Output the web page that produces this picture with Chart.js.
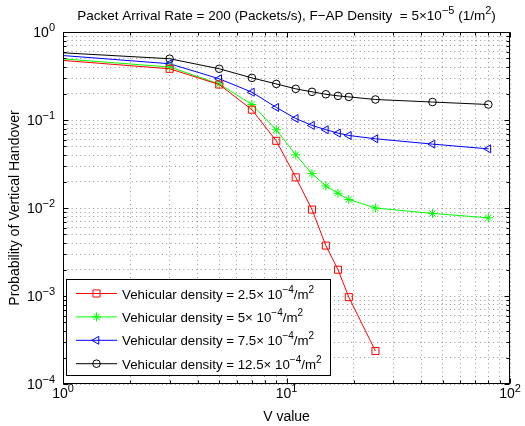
<!DOCTYPE html>
<html>
<head>
<meta charset="utf-8">
<script src="https://cdn.jsdelivr.net/npm/chart.js@4/dist/chart.umd.min.js"></script>
<style>
  body { margin: 0; background: #fff; }
  #wrap { width: 525px; height: 426px; }
</style>
</head>
<body>
<div id="wrap"><canvas id="chart" width="525" height="426"></canvas></div>
<script>
// V values on the x axis
const vValues = [1, 3, 5, 7, 9, 11, 13, 15, 17, 19, 25, 45, 80];

// probability of vertical handover, one array per vehicular density
const density25 = [0.475, 0.382, 0.253, 0.131, 0.058, 0.0223, 0.0096, 0.00374, 0.00199, 0.00097, 0.000237];
const density5 = [0.495, 0.40, 0.257, 0.150, 0.0775, 0.0402, 0.0246, 0.0178, 0.0147, 0.0125, 0.0100, 0.00867, 0.00773];
const density75 = [0.54, 0.436, 0.294, 0.207, 0.139, 0.104, 0.0868, 0.0775, 0.071, 0.0667, 0.0612, 0.0532, 0.047];
const density125 = [0.58, 0.497, 0.382, 0.301, 0.257, 0.226, 0.209, 0.196, 0.188, 0.183, 0.171, 0.160, 0.150];

const densityNames = ['2.5', '5', '7.5', '12.5'];

// decade tick labels (exponents)
const xDecades = [0, 1, 2];
const yDecades = [-4, -3, -2, -1, 0];

const FONT = '"Liberation Sans", Arial, Helvetica, sans-serif';

function minorTicks(decades) {
    const out = [];
    for (let i = 0; i < decades.length; i++) {
        const base = Math.pow(10, decades[i]);
        if (i === decades.length - 1) { out.push(base); break; }
        for (let k = 1; k < 10; k++) out.push(k * base);
    }
    return out;
}
const xGrid = minorTicks(xDecades);
const yGrid = minorTicks(yDecades);

function pts(vals) {
    return vals.map((v, i) => ({ x: vValues[i], y: v }));
}

function series(label, vals, color, style, radius, rotation) {
    return {
        label: label,
        data: pts(vals),
        borderColor: color,
        borderWidth: 1,
        backgroundColor: 'rgba(0,0,0,0)',
        pointStyle: style,
        pointRotation: rotation || 0,
        pointRadius: vals.map((v, i) => i === 0 ? 0 : radius),
        pointBorderColor: color,
        pointBackgroundColor: 'rgba(0,0,0,0)',
        pointBorderWidth: 1,
        pointHoverRadius: radius,
        tension: 0
    };
}

// draw text with superscript parts
function richWidth(ctx, parts, size) {
    let w = 0;
    parts.forEach(p => {
        ctx.font = (p.sup ? Math.round(size * 0.78) : size) + 'px ' + FONT;
        w += ctx.measureText(p.t).width;
    });
    return w;
}
function drawRich(ctx, parts, x, y, size, align) {
    const w = richWidth(ctx, parts, size);
    let cx = x;
    if (align === 'center') cx = x - w / 2;
    if (align === 'right') cx = x - w;
    ctx.textAlign = 'left';
    ctx.textBaseline = 'alphabetic';
    parts.forEach(p => {
        ctx.font = (p.sup ? Math.round(size * 0.78) : size) + 'px ' + FONT;
        ctx.fillText(p.t, cx, p.sup ? y - size * 0.45 : y);
        cx += ctx.measureText(p.t).width;
    });
}

const framePlugin = {
    id: 'frame',
    afterDraw(chart) {
        const ctx = chart.ctx;
        const a = chart.chartArea;
        const xs = chart.scales.x, ys = chart.scales.y;
        const L = Math.round(a.left) + 0.5, R = Math.round(a.right) - 0.5;
        const T = Math.round(a.top) + 0.5, B = Math.round(a.bottom) - 0.5;
        ctx.save();
        ctx.strokeStyle = '#000';
        ctx.fillStyle = '#000';
        ctx.lineWidth = 1;

        // tick marks inside, on all four sides
        ctx.beginPath();
        xGrid.forEach(v => {
            const px = Math.round(xs.getPixelForValue(v)) + 0.5;
            const len = Math.abs(Math.log10(v) % 1) < 1e-9 ? 5 : 3;
            ctx.moveTo(px, B); ctx.lineTo(px, B - len);
            ctx.moveTo(px, T); ctx.lineTo(px, T + len);
        });
        yGrid.forEach(v => {
            const py = Math.round(ys.getPixelForValue(v)) + 0.5;
            const lg = Math.log10(v);
            const len = Math.abs(lg - Math.round(lg)) < 1e-9 ? 5 : 3;
            ctx.moveTo(L, py); ctx.lineTo(L + len, py);
            ctx.moveTo(R, py); ctx.lineTo(R - len, py);
        });
        ctx.stroke();

        // box
        ctx.strokeRect(L, T, R - L, B - T);

        // tick labels
        xDecades.forEach(e => {
            const px = xs.getPixelForValue(Math.pow(10, e));
            drawRich(ctx, [{ t: '10' }, { t: String(e).replace('-', '\u2212'), sup: true }], px, 398, 14, 'center');
        });
        yDecades.forEach(e => {
            const py = ys.getPixelForValue(Math.pow(10, e));
            drawRich(ctx, [{ t: '10' }, { t: String(e).replace('-', '\u2212'), sup: true }], 55, py + 5, 14, 'right');
        });

        // title and axis titles
        const cx = (a.left + a.right) / 2;
        drawRich(ctx, [
            { t: 'Packet Arrival Rate = 200 (Packets/s), F\u2212AP Density  = 5\u00d710' },
            { t: '\u22125', sup: true }, { t: ' (1/m' }, { t: '2', sup: true }, { t: ')' }
        ], cx, 20, 13.5, 'center');
        drawRich(ctx, [{ t: 'V value' }], cx, 421, 14, 'center');
        ctx.save();
        ctx.translate(19, (a.top + a.bottom) / 2);
        ctx.rotate(-Math.PI / 2);
        drawRich(ctx, [{ t: 'Probability of Vertical Handover' }], 0, 0, 14, 'center');
        ctx.restore();

        // legend
        const lx = 66.5, ly = 279.5, lw = 264, lh = 96;
        ctx.fillStyle = '#fff';
        ctx.fillRect(lx, ly, lw, lh);
        ctx.strokeStyle = '#000';
        ctx.strokeRect(lx, ly, lw, lh);
        chart.data.datasets.forEach((ds, i) => {
            const ry = 293.5 + i * 23.4;
            ctx.strokeStyle = ds.borderColor;
            ctx.lineWidth = 1;
            ctx.beginPath();
            ctx.moveTo(76, ry); ctx.lineTo(117, ry);
            ctx.stroke();
            ctx.fillStyle = 'rgba(0,0,0,0)';
            Chart.helpers.drawPoint(ctx, {
                pointStyle: ds.pointStyle,
                rotation: ds.pointRotation,
                radius: ds.pointHoverRadius,
                borderWidth: 1
            }, 96.5, ry);
            ctx.fillStyle = '#000';
            drawRich(ctx, [
                { t: 'Vehicular density = ' + densityNames[i] + '\u00d7 10' },
                { t: '\u22124', sup: true }, { t: '/m' }, { t: '2', sup: true }
            ], 122, ry + 5, 13.3, 'left');
        });
        ctx.restore();
    }
};

new Chart(document.getElementById('chart').getContext('2d'), {
    type: 'line',
    data: {
        datasets: [
            series('2.5', density25, '#ff0000', 'rect', 5),
            series('5', density5, '#00ff00', 'star', 4.5),
            series('7.5', density75, '#0000ff', 'triangle', 4.6, 270),
            series('12.5', density125, '#000000', 'circle', 3.8)
        ]
    },
    options: {
        responsive: false,
        animation: false,
        layout: { padding: { left: 63, right: 15, top: 32, bottom: 42 } },
        plugins: {
            legend: { display: false },
            title: { display: false },
            tooltip: { enabled: false }
        },
        scales: {
            x: {
                type: 'logarithmic',
                min: 1, max: 100,
                afterBuildTicks: (s) => { s.ticks = xGrid.map(v => ({ value: v })); },
                afterFit: (s) => { s.height = 0; },
                ticks: { display: false },
                grid: { color: 'rgba(0,0,0,0.42)', lineWidth: 1, drawTicks: false },
                border: { display: false, dash: [1, 3.3] }
            },
            y: {
                type: 'logarithmic',
                min: 1e-4, max: 1,
                afterBuildTicks: (s) => { s.ticks = yGrid.map(v => ({ value: v })); },
                afterFit: (s) => { s.width = 0; },
                ticks: { display: false },
                grid: { color: 'rgba(0,0,0,0.42)', lineWidth: 1, drawTicks: false },
                border: { display: false, dash: [1, 3.3] }
            }
        }
    },
    plugins: [framePlugin]
});
</script>
</body>
</html>
